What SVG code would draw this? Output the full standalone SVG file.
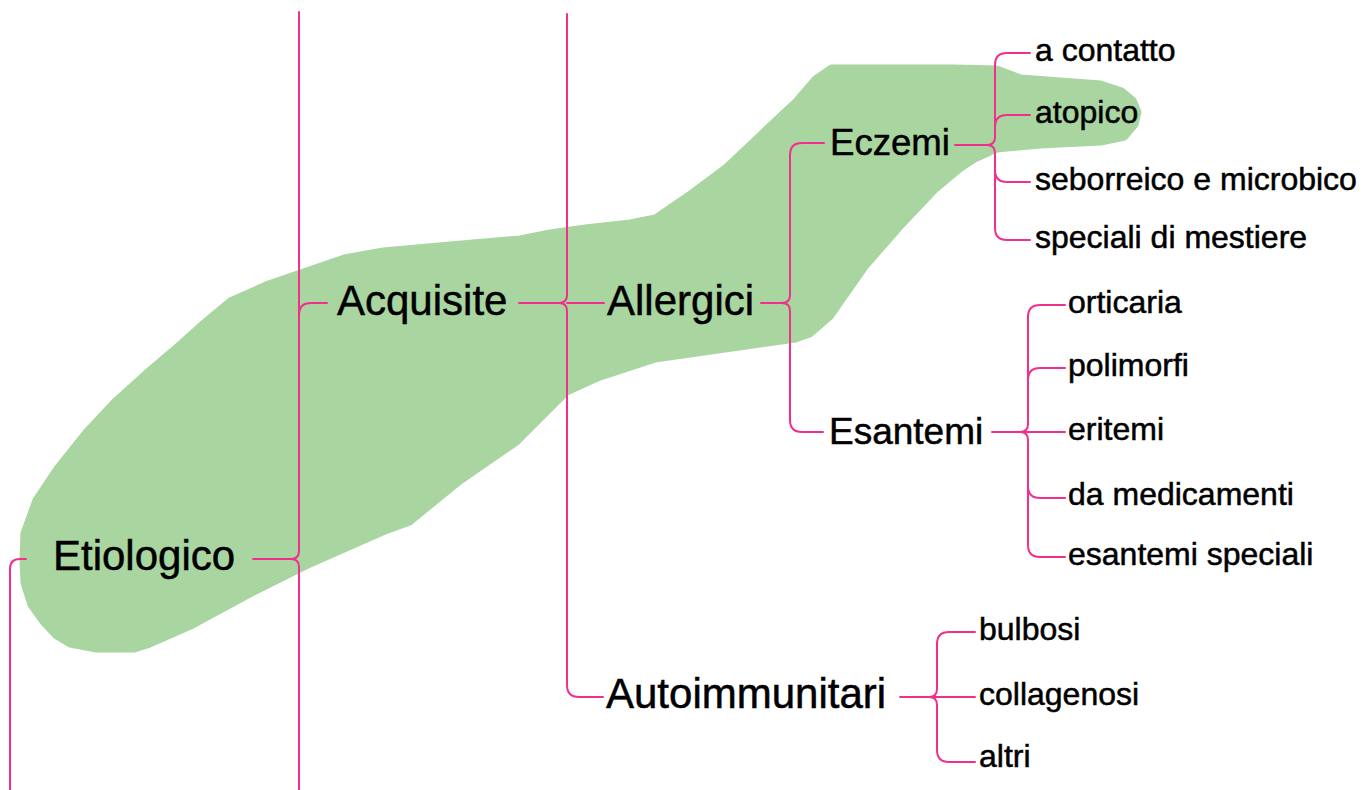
<svg xmlns="http://www.w3.org/2000/svg" width="1369" height="790" viewBox="0 0 1369 790">
<style>
.c{fill:none;stroke:#f0308c;stroke-width:2;stroke-linecap:round}
.t{font-family:"Liberation Sans",Arial,sans-serif;fill:#000;stroke:#000;stroke-width:0.5}
.l1{font-size:42px}
.l2{font-size:37px}
.lf{font-size:32px}
</style>
<rect width="1369" height="790" fill="#fff"/>
<path id="blob" fill="#a8d5a0" stroke="#a8d5a0" stroke-width="5" stroke-linejoin="round" d="M22,560 L23,533 L35,500 L57,467 L85,432 L115,400 L145,373 L172,350 L200,325 L230,300 L268,283 L306,270 L344,257 L383,250 L450,244 L520,238 L550,232 L585,227 L630,222 L655,217 L690,193 L725,167 L761,133 L796,100 L815,78 L831,67 L953,67 L997,68 L1021,77 L1060,80 L1101,83 L1122,90 L1134,100 L1139,112 L1136,125 L1125,138 L1101,143 L1040,146 L997,150 L975,160 L960,170 L936,190 L901,227 L866,267 L831,317 L810,335 L796,340 L725,350 L655,360 L600,378 L567,393 L517,443 L459,483 L410,523 L383,533 L306,567 L250,595 L191,627 L150,645 L134,650 L96,650 L70,645 L55,636 L42,622 L30,605 L23,583 Z"/>
<g id="connectors">
<path class="c" d="M26,559 H20 Q10,559 10,569 V790"/>
<path class="c" d="M253,559 H291 Q299,559 299,551 V12"/>
<path class="c" d="M291,559 Q299,559 299,567 V790"/>
<path class="c" d="M299,315 Q299,303 311,303 H327"/>
<path class="c" d="M519,303 H559 Q567,303 567,295 V14"/>
<path class="c" d="M559,303 Q567,303 567,311 V685 Q567,697 579,697 H603"/>
<path class="c" d="M567,303 H604"/>
<path class="c" d="M761,303 H782 Q790,303 790,295 V155 Q790,143 802,143 H824"/>
<path class="c" d="M782,303 Q790,303 790,311 V420 Q790,432 802,432 H823"/>
<path class="c" d="M955,145 H987 Q995,145 995,137 V65 Q995,53 1007,53 H1030"/>
<path class="c" d="M987,145 Q995,145 995,153 V228 Q995,240 1007,240 H1030"/>
<path class="c" d="M995,127 Q995,115 1007,115 H1030"/>
<path class="c" d="M995,170 Q995,182 1007,182 H1030"/>
<path class="c" d="M992,432 H1065"/>
<path class="c" d="M1020,432 Q1028,432 1028,424 V317 Q1028,305 1040,305 H1065"/>
<path class="c" d="M1028,380 Q1028,368 1040,368 H1065"/>
<path class="c" d="M1020,432 Q1028,432 1028,440 V545 Q1028,557 1040,557 H1065"/>
<path class="c" d="M1028,486 Q1028,498 1040,498 H1065"/>
<path class="c" d="M900,697 H975"/>
<path class="c" d="M929,697 Q937,697 937,689 V644 Q937,632 949,632 H975"/>
<path class="c" d="M929,697 Q937,697 937,705 V750 Q937,762 949,762 H975"/>
</g>
<g id="n-etiologico"><text class="t l1" x="53" y="570">Etiologico</text></g>
<g id="n-acquisite"><text class="t l1" x="337" y="315">Acquisite</text></g>
<g id="n-allergici"><text class="t l1" x="607" y="315">Allergici</text></g>
<g id="n-autoimmunitari"><text class="t l1" x="606" y="708">Autoimmunitari</text></g>
<g id="n-eczemi"><text class="t l2" x="830" y="155" textLength="120" lengthAdjust="spacingAndGlyphs">Eczemi</text></g>
<g id="n-esantemi"><text class="t l2" x="829" y="444">Esantemi</text></g>
<g id="n-a-contatto"><text class="t lf" x="1035" y="61">a contatto</text></g>
<g id="n-atopico"><text class="t lf" x="1035" y="123">atopico</text></g>
<g id="n-seborreico"><text class="t lf" x="1035" y="190">seborreico e microbico</text></g>
<g id="n-speciali"><text class="t lf" x="1035" y="248">speciali di mestiere</text></g>
<g id="n-orticaria"><text class="t lf" x="1068" y="313">orticaria</text></g>
<g id="n-polimorfi"><text class="t lf" x="1068" y="376">polimorfi</text></g>
<g id="n-eritemi"><text class="t lf" x="1068" y="440">eritemi</text></g>
<g id="n-da-medicamenti"><text class="t lf" x="1068" y="505">da medicamenti</text></g>
<g id="n-esantemi-speciali"><text class="t lf" x="1068" y="565">esantemi speciali</text></g>
<g id="n-bulbosi"><text class="t lf" x="979" y="640">bulbosi</text></g>
<g id="n-collagenosi"><text class="t lf" x="979" y="705">collagenosi</text></g>
<g id="n-altri"><text class="t lf" x="979" y="767">altri</text></g>
</svg>
